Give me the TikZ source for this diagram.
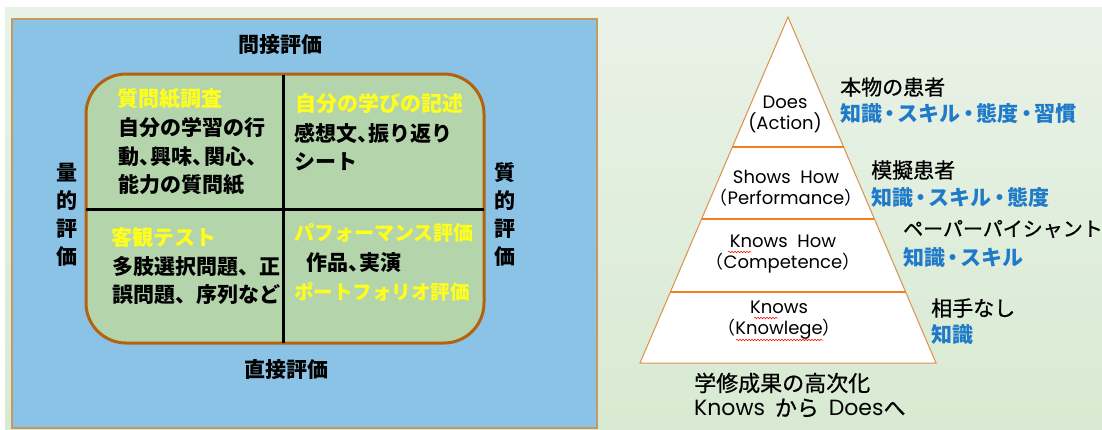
\documentclass[tikz,border=0pt]{standalone}
\usepackage{fontspec}
\newfontfamily\jp{Noto Sans CJK JP}
\newfontface\jpmed{Noto Sans CJK JP}[FakeBold=0.8]
\newfontfamily\pop{Poppins}
\usetikzlibrary{calc,decorations.pathmorphing}
\definecolor{bgtop}{HTML}{E9F2E7}
\definecolor{bgbot}{HTML}{D8EAD2}
\definecolor{blueF}{HTML}{8BC3E6}
\definecolor{tanB}{HTML}{C49A62}
\definecolor{greenF}{HTML}{B4D5AC}
\definecolor{orangeB}{HTML}{B5620E}
\definecolor{yellowT}{HTML}{FFFF1A}
\definecolor{blueT}{HTML}{1F7BC9}
\definecolor{triB}{HTML}{D9914C}
\definecolor{lineO}{HTML}{F0801E}
\newcommand\pc{\makebox[0.55em][l]{、}}
\newcommand\nd{\makebox[0.75em][c]{・}}
\tikzset{
  jtxt/.style={inner sep=0pt, anchor=west, font=\jp\bfseries\fontsize{21}{25}\selectfont, text=black},
  ytxt/.style={jtxt, text=yellowT},
  side/.style={inner sep=0pt, align=center, font=\jp\bfseries\fontsize{21}{28}\selectfont},
  tri/.style={inner sep=0pt, align=center, font=\pop\fontsize{18}{21}\selectfont},
  rlab/.style={inner sep=0pt, anchor=west, font=\jpmed\fontsize{21}{25}\selectfont},
  blab/.style={rlab, font=\jp\bfseries\fontsize{21}{25}\selectfont, text=blueT},
  layer/.style={draw=lineO, line width=2.5pt},
  wavy/.style={red, line width=0.5pt, decorate, decoration={snake, amplitude=0.8pt, segment length=3pt}}
}
\begin{document}
\begin{tikzpicture}[x=1pt,y=-1pt]
\useasboundingbox (0,0) rectangle (1102,429);
\fill[white] (0,0) rectangle (1102,429);
\shade[top color=bgtop,bottom color=bgbot] (5,7) rectangle (1102,429);
% left panel
\draw[fill=blueF, draw=tanB, line width=1.5pt] (12,19) rectangle (597,428);
\draw[fill=greenF, draw=orangeB, line width=3pt, rounded corners=40pt] (86,74) rectangle (484,343);
\draw[line width=3pt] (283,75) -- (283,343);
\draw[line width=3pt] (86,209) -- (484,209);
\node[side] (top) at (280,45) {間接評価};
\node[side] (bot) at (286,370) {直接評価};
\node[side] (lft) at (67,215) {量\\的\\評\\価};
\node[side] (rgt) at (505,215) {質\\的\\評\\価};
\node[ytxt] (q1h) at (117,99) {質問紙調査};
\node[jtxt] (q1a) at (118,128) {自分の学習の行};
\node[jtxt] (q1b) at (118,157) {動\pc 興味\pc 関心\pc};
\node[jtxt] (q1c) at (118,185) {能力の質問紙};
\node[ytxt] (q2h) at (295,104) {自分の学びの記述};
\node[jtxt] (q2a) at (294,133) {感想文\pc 振り返り};
\node[jtxt] (q2b) at (294,162) {シート};
\node[ytxt] (q3h) at (111,237) {客観テスト};
\node[jtxt] (q3a) at (112,267) {多肢選択問題、正};
\node[jtxt] (q3b) at (112,295) {誤問題、序列など};
\node[ytxt, font=\jp\bfseries\fontsize{20}{24}\selectfont] (q4h) at (294,233) {パフォーマンス評価};
\node[jtxt] (q4a) at (306,263) {作品\pc 実演};
\node[ytxt, font=\jp\bfseries\fontsize{19.5}{24}\selectfont] (q4b) at (294,292) {ポートフォリオ評価};
% pyramid
\coordinate (apex) at (788,17);
\coordinate (bl) at (640,363);
\coordinate (br) at (936,363);
\draw[fill=white, draw=triB, line width=1pt] (apex) -- (br) -- (bl) -- cycle;
\draw[layer] ($(apex)!0.3757!(bl)$) -- ($(apex)!0.3757!(br)$);
\draw[layer] ($(apex)!0.5838!(bl)$) -- ($(apex)!0.5838!(br)$);
\draw[layer] ($(apex)!0.7948!(bl)$) -- ($(apex)!0.7948!(br)$);
\node[tri] (t1) at (785,114) {Does\\(Action)};
\node[tri] (t2) at (786,188) {Shows\ \ How\\{\jp（}Performance{\jp）}};
\node[tri] (t3) at (783,254) {Knows\ \ How\\{\jp（}Competence{\jp）}};
\node[tri] (t4) at (779,320) {Knows\\{\jp（}Knowlege{\jp）}};
\draw[wavy] (728,252) -- (751,252);
\draw[wavy] (754,318) -- (778,318);
\draw[wavy] (736,340) -- (823,340);
% right labels
\node[rlab] (r1) at (840,87) {本物の患者};
\node[blab] (r1b) at (840,114) {知識\nd スキル\nd 態度\nd 習慣};
\node[rlab] (r2) at (871,170) {模擬患者};
\node[blab] (r2b) at (871,197) {知識\nd スキル\nd 態度};
\node[rlab, font=\jpmed\fontsize{20}{24}\selectfont] (r3) at (903,229) {ペーパーパイシャント};
\node[blab] (r3b) at (903,258) {知識\nd スキル};
\node[rlab] (r4) at (931,308) {相手なし};
\node[blab] (r4b) at (931,335) {知識};
\node[rlab, font=\jpmed\fontsize{22}{26}\selectfont] (s1) at (694,383) {学修成果の高次化};
\node[rlab, font=\jpmed\fontsize{22}{26}\selectfont] (s2) at (694,408) {{\pop Knows}\ \ から\ \ {\pop Does}へ};
\end{tikzpicture}
\end{document}
